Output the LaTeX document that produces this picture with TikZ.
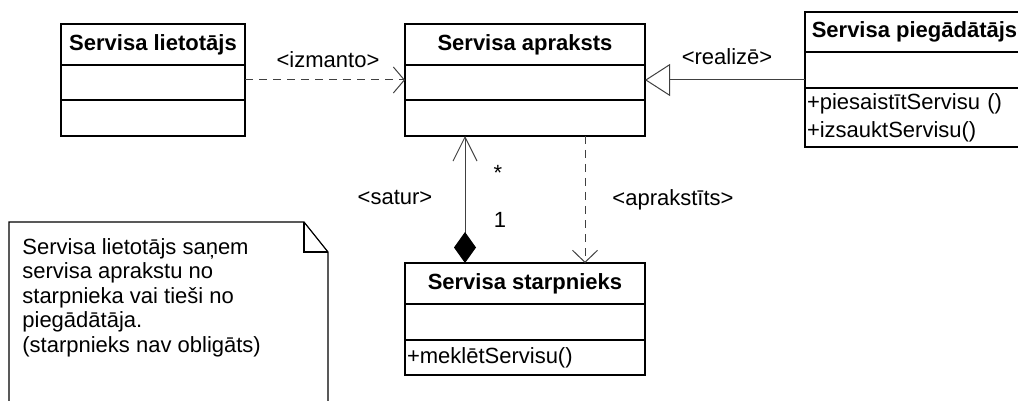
\documentclass[tikz,border=0pt]{standalone}
\usepackage{fontspec}
\setmainfont{Liberation Sans}
\usetikzlibrary{positioning,arrows.meta}

\tikzset{
  txt/.style={font=\fontsize{11}{13}\selectfont},
  classhead/.style={draw,rectangle,line width=1pt,outer sep=0pt,inner sep=1pt,anchor=north west,
    font=\bfseries\fontsize{11}{13}\selectfont},
  classpart/.style={draw,rectangle,line width=1pt,outer sep=0pt,inner xsep=1pt,inner ysep=0pt,
    align=left,font=\fontsize{11}{14}\selectfont},
  link/.style={line width=0.5pt,black!75},
}

\begin{document}
\begin{tikzpicture}[x=0.5pt,y=-0.5pt]
    \clip (0,0) rectangle (1018,401);

    % klases
    \node[classhead,minimum width=92pt,minimum height=20.5pt] (lietotajs) at (61,24) {Servisa lietotājs};
    \node[classpart,minimum width=92pt,minimum height=17.5pt,below=0pt of lietotajs] (lietotajs-attr) {};
    \node[classpart,minimum width=92pt,minimum height=18pt,below=0pt of lietotajs-attr] (lietotajs-ops) {};

    \node[classhead,minimum width=120pt,minimum height=20.5pt] (apraksts) at (405,24) {Servisa apraksts};
    \node[classpart,minimum width=120pt,minimum height=17.5pt,below=0pt of apraksts] (apraksts-attr) {};
    \node[classpart,minimum width=120pt,minimum height=18pt,below=0pt of apraksts-attr] (apraksts-ops) {};

    \node[classhead,minimum width=109.5pt,minimum height=20pt] (piegadatajs) at (805,12) {Servisa piegādātājs};
    \node[classpart,minimum width=109.5pt,minimum height=18pt,below=0pt of piegadatajs] (piegadatajs-attr) {};
    \node[classpart,minimum width=109.5pt,minimum height=29.5pt,text width=107.5pt,below=0pt of piegadatajs-attr] (piegadatajs-ops) {+piesaistītServisu ()\\+izsauktServisu()};

    \node[classhead,minimum width=120pt,minimum height=20.5pt] (starpnieks) at (405,263) {Servisa starpnieks};
    \node[classpart,minimum width=120pt,minimum height=18pt,below=0pt of starpnieks] (starpnieks-attr) {};
    \node[classpart,minimum width=120pt,minimum height=17.5pt,text width=118pt,below=0pt of starpnieks-attr] (starpnieks-ops) {+meklētServisu()};

    % savienojumi
    \draw[link,dash pattern=on 4pt off 3pt,-{Straight Barb[length=5.5pt,width=13pt]}] ([yshift=1.25pt]lietotajs-attr.east) -- ([yshift=1.25pt]apraksts-attr.west);
    \draw[link,-{Triangle[length=12.5pt,width=16pt,fill=white]}] ([yshift=-5pt]piegadatajs-attr.west) -- ([yshift=1.25pt]apraksts-attr.east);
    \draw[link,{Diamond[length=15.5pt,width=11pt,fill=black,color=black]}-{Straight Barb[length=12pt,width=12pt]}] ([xshift=30pt]starpnieks.north west) -- ([xshift=30pt]apraksts-ops.south west);
    \draw[link,dash pattern=on 4pt off 3pt,-{Straight Barb[length=6pt,width=12.5pt]}] ([xshift=90pt]apraksts-ops.south west) -- ([xshift=90pt]starpnieks.north west);

    \node[txt] (izmanto) at (328,60) {<izmanto>};
    \node[txt] (realize) at (727,57) {<realizē>};
    \node[txt] (satur) at (395,197) {<satur>};
    \node[txt] (daudzi) at (498,173) {*};
    \node[txt] (viens) at (500,220) {1};
    \node[txt] (aprakstits) at (673,200) {<aprakstīts>};

    % piezīme
    \draw[line width=0.6pt] (9,410) -- (9,222) -- (304,222) -- (328,252) -- (328,410);
    \draw[line width=0.6pt] (304,222) -- (304,252) -- (328,252);
    \node[anchor=north west,inner sep=0pt,align=left,font=\fontsize{11}{12.25}\selectfont] (piezime) at (22,238) {Servisa lietotājs saņem\\servisa aprakstu no\\starpnieka vai tieši no\\piegādātāja.\\(starpnieks nav obligāts)};
\end{tikzpicture}
\end{document}
